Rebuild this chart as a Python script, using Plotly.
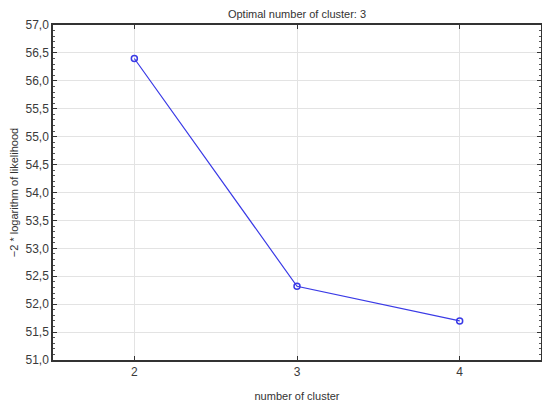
import plotly.graph_objects as go

clusters = [2, 3, 4]
neg2_loglik = [56.4, 52.32, 51.7]
y_ticks = [51.0, 51.5, 52.0, 52.5, 53.0, 53.5, 54.0, 54.5, 55.0, 55.5, 56.0, 56.5, 57.0]

FONT = "Liberation Sans, Arial, sans-serif"

fig = go.Figure()
fig.add_trace(go.Scatter(
    x=clusters, y=neg2_loglik, mode="lines+markers",
    line=dict(color="#3a3ae6", width=1.2),
    marker=dict(symbol="circle-open", size=6, color="#3a3ae6", line=dict(width=1.5)),
    showlegend=False,
))

axis_common = dict(
    showline=True, linecolor="#333333", linewidth=1.5, mirror="ticks",
    ticks="inside", tickcolor="#333333", ticklen=4, automargin=False,
    showgrid=True, gridcolor="#e3e3e3", gridwidth=1, zeroline=False,
    tickfont=dict(family=FONT, size=12, color="#3a3a3a"),
)

fig.update_layout(
    width=542, height=400,
    margin=dict(l=45, r=9, t=17, b=48),
    paper_bgcolor="white", plot_bgcolor="white",
    separators=",.",
    title=dict(text="Optimal number of cluster: 3", x=0.5, xref="paper", xanchor="center",
               y=1.0, yref="container", yanchor="top", pad=dict(t=2), automargin=False,
               font=dict(family=FONT, size=11, color="#333333")),
    xaxis=dict(range=[1.5, 4.5], tickvals=clusters, ticktext=[str(c) for c in clusters],
               title=dict(text="number of cluster", standoff=14,
                          font=dict(family=FONT, size=11, color="#333333")),
               **axis_common),
    yaxis=dict(range=[51, 57], tickvals=y_ticks, tickformat=".1f",
               minor=dict(dtick=0.1, ticks="inside", ticklen=2, tickcolor="#555555", showgrid=False),
               title=dict(text="\u22122 * logarithm of likelihood", standoff=16,
                          font=dict(family=FONT, size=11, color="#333333")),
               **axis_common),
)

fig.write_html("out.html")
